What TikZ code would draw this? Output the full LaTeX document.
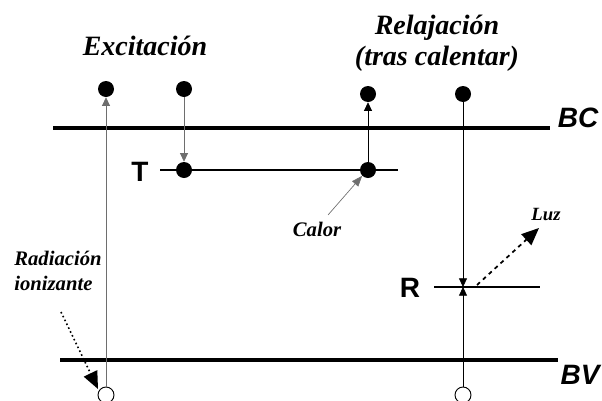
\documentclass[tikz,border=0pt]{standalone}
\usepackage{fontspec}
\setmainfont{Liberation Serif}
\setsansfont{Liberation Sans}
\usetikzlibrary{arrows.meta}
\definecolor{linegray}{RGB}{110,110,110}

\begin{document}
\begin{tikzpicture}[x=0.75pt,y=-0.75pt,
  band/.style={line width=2.5pt},
  level/.style={line width=1.6pt},
  full/.style={circle,fill=black,inner sep=0pt,minimum size=12pt},
  hole/.style={circle,draw=black,line width=0.7pt,inner sep=0pt,minimum size=12pt},
  trans/.style={line width=0.6pt,-{Triangle[length=6.5pt,width=6pt]}},
  big/.style={-{Triangle[length=13pt,width=11pt]}},
  lbl/.style={font=\fontsize{21}{23}\selectfont\bfseries\itshape,align=center},
  small/.style={font=\fontsize{15.5}{19}\selectfont\bfseries\itshape,align=left},
  band label/.style={font=\fontsize{21}{22}\selectfont\sffamily\bfseries\itshape},
  lev label/.style={font=\fontsize{21}{22}\selectfont\sffamily\bfseries}]
  \useasboundingbox (0,0) rectangle (602,400);

  % bandas
  \draw[band] (53,128) -- (550,128);
  \draw[band] (60,360) -- (558,360);
  \node[band label] (bc) at (578,118) {BC};
  \node[band label,inner sep=1pt] (bv) at (580,375) {BV};

  % niveles de trampa
  \draw[level] (160,170) -- (398,170);
  \draw[level] (434,287) -- (540,287);
  \node[lev label] (T) at (140,172) {T};
  \node[lev label] (R) at (410,288) {R};
  \coordinate (r0) at (463,287);

  % electrones y huecos
  \foreach \n/\x/\y in {e1/106/89, e2/184/89, e3/368/94, e4/463/94,
                        t1/184/170, t2/368/170}{
    \node[full] (\n) at (\x,\y) {};
  }
  \foreach \n/\x in {h1/106, h2/463}{
    \node[hole] (\n) at (\x,395) {};
  }

  % transiciones
  \draw[trans,linegray] (h1.north) -- (e1.south);
  \draw[trans,linegray] (e2.south) -- (t1.north);
  \draw[trans] (t2.north) -- (e3.south);
  \draw[trans] (e4.south) -- (r0);
  \draw[trans] (h2.north) -- (r0);

  % textos
  \node[lbl] (exc) at (145,46) {Excitación};
  \node[lbl] (rel) at (437,43) {Relajación\\(tras calentar)};
  \node[small] (calor) at (317,229) {Calor};
  \node[small] (rad) at (58,271) {Radiación\\ionizante};
  \node[small,font=\fontsize{14}{16}\selectfont\bfseries\itshape] (luz) at (546,214) {Luz};

  \draw[line width=0.5pt,linegray,-{Triangle[length=8pt,width=6pt]}]
    (328,215) -- (t2.south west);
  \draw[big,dashed,line width=1.3pt] (477,285) -- (539,228);
  \draw[big,dotted,line width=1.2pt] (61,312) -- (98,389);
\end{tikzpicture}
\end{document}
